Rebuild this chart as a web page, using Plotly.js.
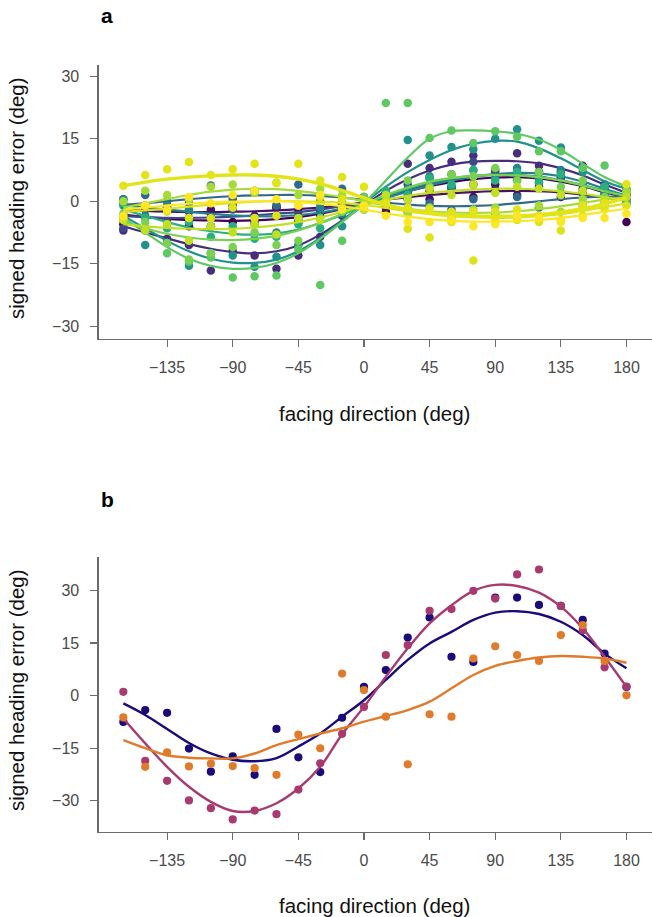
<!DOCTYPE html>
<html>
<head>
<meta charset="utf-8">
<script src="https://cdn.plot.ly/plotly-3.0.1.min.js"></script>
<style>html,body{margin:0;padding:0;background:#fff;}#chart{width:652px;height:917px;}</style>
</head>
<body>
<div id="chart"></div>
<script>
// facing direction (deg)
const facing = [-165,-150,-135,-120,-105,-90,-75,-60,-45,-30,-15,0,15,30,45,60,75,90,105,120,135,150,165,180];
const xTicks = [-135,-90,-45,0,45,90,135,180];
const yTicks = [-30,-15,0,15,30];

// Panel a: per-participant points and smooth fits
const aColors = ["#440154","#471365","#472d7b","#3e4989","#31688e","#26828e","#21918c","#2ab07f","#5ec962","#7ad151","#a5db36","#c2df23","#dde318","#e2e418","#fde725"];
const aPts = [
  [-5.5,-2.0,-1.5,-6.0,-3.0,-5.0,-5.0,-1.5,-5.0,-3.5,-0.5,-1.0,-2.5,0.5,2.5,3.5,4.0,2.8,6.5,7.0,7.0,2.0,3.0,-5.0],
  [-4.0,-1.0,-1.5,-4.0,-2.0,-1.0,-3.5,-1.5,-2.5,-0.5,-2.0,1.0,-1.5,2.0,0.5,3.0,1.0,4.0,1.5,3.5,1.0,3.0,-0.5,1.5],
  [-7.0,-6.5,-9.0,-10.5,-16.6,-12.0,-13.0,-16.2,-13.0,-8.5,-3.5,-1.0,0.5,9.0,8.0,9.5,11.0,7.5,11.5,8.5,6.0,8.5,2.0,1.5],
  [-6.5,-7.0,-5.0,-2.5,-6.0,-2.0,-5.0,-1.0,-4.5,-2.5,-0.5,0.5,-0.5,4.0,5.5,6.5,9.5,7.0,5.0,4.5,5.5,2.0,4.0,0.5],
  [0.5,1.5,0.0,-0.5,3.8,0.5,2.5,-1.0,4.0,0.0,3.0,-1.0,0.5,-2.5,-0.5,-2.0,0.5,-3.0,1.0,-1.5,2.0,-1.0,1.5,-0.5],
  [0.5,-3.5,-1.0,-2.0,-6.0,-1.5,-5.5,-7.5,-4.5,-1.5,-3.0,0.5,-0.5,3.0,6.0,3.5,7.5,5.5,8.0,5.5,7.5,4.0,2.0,3.0],
  [-1.0,-10.5,-10.0,-15.5,-12.5,-13.0,-15.7,-13.3,-10.5,-10.5,-6.0,0.0,2.0,14.7,11.0,13.0,12.5,15.0,17.3,14.5,12.9,7.0,3.5,2.0],
  [-0.5,-4.0,-6.5,-5.0,-8.5,-6.0,-9.0,-8.5,-5.5,-6.5,-2.0,-2.0,2.5,1.5,5.5,4.0,7.5,5.0,7.0,4.5,6.5,2.5,3.5,0.0],
  [-3.0,-6.5,-12.5,-14.5,-13.5,-18.3,-18.0,-17.8,-11.5,-20.1,-9.5,1.0,23.6,23.6,15.2,17.0,14.0,16.8,15.5,12.0,12.0,8.0,8.6,2.5],
  [-4.5,-5.0,-10.0,-14.0,-12.5,-11.0,-7.5,-10.5,-9.5,-4.0,-2.5,0.5,0.5,5.0,3.5,6.5,6.0,8.0,5.0,7.0,3.5,5.0,1.0,2.5],
  [0.0,2.5,1.5,0.5,3.5,4.0,2.0,4.5,1.5,3.0,1.5,-1.0,0.0,-3.0,-1.5,-4.0,-2.0,-1.5,-3.5,-1.0,-2.5,0.5,-1.0,2.0],
  [-4.5,-7.0,-5.5,-9.5,-6.0,-7.5,-5.5,-8.0,-4.0,-4.5,-1.5,-2.0,1.5,0.5,3.0,1.5,4.0,2.0,3.5,3.0,1.5,2.5,0.0,1.0],
  [-4.0,-1.0,-2.5,-4.0,-4.1,-1.5,-4.0,-3.5,-1.0,1.0,0.5,-1.5,-0.5,-6.6,-8.7,-2.5,-14.2,-2.5,-4.5,-5.0,-7.0,-3.5,-2.0,-1.0],
  [3.7,6.3,7.7,9.4,6.3,7.7,9.0,4.3,9.0,5.0,5.8,3.5,-0.5,-1.5,-2.0,-5.0,-2.5,-4.5,-2.0,-3.5,-4.5,-1.0,-0.5,4.1],
  [-3.5,-1.0,-2.0,1.0,-0.5,1.5,2.5,0.5,-1.0,1.5,-2.0,-1.0,-3.5,-5.0,-5.0,-4.5,-6.0,-5.5,-3.5,-4.0,-5.0,-4.0,-4.0,-3.0]
];
const aFit = [
  [-3.2,-3.8,-4.2,-4.5,-4.6,-4.7,-4.6,-4.3,-3.8,-3.0,-1.8,-0.4,1.0,2.4,3.6,4.6,5.3,5.7,5.8,5.5,4.7,3.6,2.2,1.0],
  [-2.0,-2.3,-2.5,-2.6,-2.6,-2.5,-2.4,-2.2,-1.9,-1.5,-1.0,-0.3,0.4,1.0,1.5,1.9,2.2,2.4,2.5,2.4,2.1,1.6,0.9,0.2],
  [-6.0,-7.5,-8.9,-10.3,-11.4,-12.2,-12.5,-12.0,-10.6,-8.0,-4.6,-1.0,2.5,5.3,7.4,8.8,9.5,9.7,9.6,9.1,7.9,6.2,4.0,2.0],
  [-3.5,-3.8,-4.0,-4.0,-3.9,-3.7,-3.4,-3.0,-2.6,-2.0,-1.2,-0.2,1.2,2.8,4.2,5.3,6.0,6.3,6.3,5.9,5.0,3.8,2.4,1.0],
  [-0.8,-0.5,0.0,0.5,0.9,1.2,1.4,1.5,1.5,1.3,0.9,0.3,-0.3,-0.8,-1.1,-1.2,-1.1,-0.9,-0.5,0.0,0.5,0.9,1.1,1.0],
  [-1.0,-1.5,-2.0,-2.5,-3.0,-3.4,-3.6,-3.6,-3.3,-2.7,-1.8,-0.6,0.8,2.3,3.8,5.0,5.9,6.5,6.8,6.7,6.0,4.7,3.0,1.3],
  [-3.5,-6.5,-9.5,-12.0,-13.8,-14.7,-14.8,-14.0,-12.0,-8.8,-4.7,-0.5,3.5,7.0,9.9,12.3,13.8,14.5,14.3,12.7,10.3,7.5,4.8,3.0],
  [-2.0,-3.5,-5.0,-6.3,-7.2,-7.8,-8.0,-7.7,-6.8,-5.2,-3.2,-1.0,1.2,3.0,4.5,5.5,6.1,6.3,6.2,5.8,5.0,3.9,2.6,1.3],
  [-4.0,-7.5,-11.0,-13.8,-15.5,-16.2,-16.0,-14.8,-12.5,-9.0,-5.0,-0.5,5.0,10.5,15.0,16.8,17.0,16.8,16.2,14.8,12.3,9.0,5.8,3.5],
  [-5.0,-6.5,-7.8,-8.7,-9.2,-9.3,-9.0,-8.3,-7.0,-5.2,-3.0,-0.7,1.5,3.3,4.7,5.6,6.1,6.3,6.2,5.8,5.0,3.8,2.4,1.2],
  [-1.5,-0.5,0.5,1.5,2.3,2.8,3.0,2.9,2.5,1.8,1.0,0.0,-1.0,-1.8,-2.4,-2.7,-2.8,-2.7,-2.4,-1.9,-1.2,-0.4,0.4,1.0],
  [-5.5,-6.0,-6.4,-6.6,-6.7,-6.6,-6.3,-5.8,-5.0,-3.9,-2.5,-1.0,0.3,1.3,2.0,2.5,2.8,3.0,3.0,2.8,2.4,1.8,1.0,0.2],
  [-2.5,-2.2,-1.8,-1.3,-0.8,-0.4,-0.1,0.0,0.0,-0.1,-0.4,-0.9,-1.6,-2.4,-3.1,-3.6,-3.9,-4.0,-3.9,-3.6,-3.1,-2.3,-1.4,-0.5],
  [3.7,4.6,5.3,5.8,6.1,6.3,6.3,6.0,5.3,4.2,2.6,0.8,-0.8,-2.0,-2.8,-3.3,-3.5,-3.6,-3.5,-3.2,-2.6,-1.8,-0.6,0.8],
  [-2.0,-1.5,-1.0,-0.6,-0.3,-0.1,0.0,0.0,-0.2,-0.6,-1.2,-2.0,-2.9,-3.7,-4.3,-4.7,-4.9,-4.9,-4.8,-4.5,-4.0,-3.3,-2.5,-1.8]
];
const aWidths = [2.2,2.2,2.2,2.2,2.2,2.2,2.2,2.2,2.2,2.2,2.2,2.2,2.2,3.4,2.2];

// Panel b: group means and fits
const bNames = ["group 1","group 2","group 3"];
const bColors = ["#1a0b7a","#a83a70","#e07b2c"];
const navyPts = [-7.5,-4.1,-4.9,-15.1,-21.7,-17.3,-22.6,-9.5,-17.6,-21.8,-6.3,2.5,7.3,16.6,22.3,11.1,9.6,28.0,28.0,25.9,25.6,21.6,12.0,2.5];
const magentaPts = [1.1,-18.6,-24.3,-29.9,-32.1,-35.3,-32.8,-33.8,-26.8,-19.3,-10.9,-3.2,11.6,14.4,24.2,24.7,29.9,27.7,34.6,36.0,25.6,18.7,8.1,2.6];
const orangePts = [-6.2,-20.3,-16.2,-20.2,-19.4,-20.1,-20.7,-22.6,-11.1,-15.0,6.3,1.6,-6.0,-19.6,-5.3,-6.0,10.6,14.1,11.6,9.9,17.3,20.1,9.9,0.1];
const navyFit = [-2.2,-5.5,-9.5,-13.5,-16.5,-18.3,-18.7,-17.8,-14.5,-10.8,-6.0,-1.3,4.5,10.2,14.9,18.2,21.6,23.7,24.1,23.3,21.1,17.3,12.0,7.8];
const magentaFit = [-6.5,-13.6,-20.3,-26.0,-30.3,-32.9,-32.9,-30.7,-26.5,-20.3,-11.0,-3.2,5.4,13.5,20.6,25.8,29.9,31.6,31.3,29.4,25.4,19.2,11.1,2.5];
const orangeFit = [-12.7,-15.0,-17.0,-17.7,-17.9,-17.9,-16.5,-14.1,-12.4,-10.8,-9.3,-7.4,-5.8,-4.1,-1.7,2.1,5.9,8.5,9.9,10.9,11.3,11.1,10.6,9.4];
const bPts = [navyPts, magentaPts, orangePts];
const bFit = [navyFit, magentaFit, orangeFit];

const W = 652, H = 917;
const traces = [];
aPts.forEach((pts, i) => {
  traces.push({x: facing, y: pts, type: 'scatter', mode: 'markers', xaxis: 'x', yaxis: 'y',
    marker: {color: aColors[i], size: 8.5}, hoverinfo: 'skip', showlegend: false});
  traces.push({x: facing, y: aFit[i], type: 'scatter', mode: 'lines', xaxis: 'x', yaxis: 'y',
    line: {color: aColors[i], width: aWidths[i], shape: 'spline', smoothing: 1}, hoverinfo: 'skip', showlegend: false});
});
bPts.forEach((pts, i) => {
  traces.push({x: facing, y: pts, type: 'scatter', mode: 'markers', xaxis: 'x2', yaxis: 'y2', name: bNames[i],
    marker: {color: bColors[i], size: 8.2}, showlegend: false});
  traces.push({x: facing, y: bFit[i], type: 'scatter', mode: 'lines', xaxis: 'x2', yaxis: 'y2', name: bNames[i],
    line: {color: bColors[i], width: 2.4, shape: 'spline', smoothing: 1}, showlegend: false});
});

const font = "Liberation Sans, Arial, Helvetica, sans-serif";
const xDom = [98.7 / W, 1];
function xa() {
  return {domain: xDom, range: [-181.9, 197.5], tickvals: xTicks, showline: true, linecolor: '#6b6b6b', linewidth: 1.3,
    ticks: 'outside', ticklen: 7, tickcolor: '#6b6b6b', tickwidth: 1.2, showgrid: false, zeroline: false,
    tickfont: {family: font, size: 16, color: '#4a4a4a'}, ticklabelstandoff: 6, fixedrange: true};
}
function ya(dom, rng) {
  return {domain: dom, range: rng, tickvals: yTicks, showline: true, linecolor: '#6b6b6b', linewidth: 1.3,
    ticks: 'outside', ticklen: 7, tickcolor: '#6b6b6b', tickwidth: 1.2, showgrid: false, zeroline: false,
    tickfont: {family: font, size: 16, color: '#4a4a4a'}, ticklabelstandoff: 8, fixedrange: true};
}
const px = v => v / W, py = v => 1 - v / H;
const titleFont = {family: font, size: 20.5, color: '#111'};
const layout = {
  width: W, height: H, margin: {l: 0, r: 0, t: 0, b: 0}, paper_bgcolor: '#fff', plot_bgcolor: '#fff',
  showlegend: false,
  xaxis: Object.assign(xa(), {anchor: 'y'}),
  yaxis: Object.assign(ya([1 - 339 / H, 1 - 65 / H], [-33.05, 32.7]), {anchor: 'x'}),
  xaxis2: Object.assign(xa(), {anchor: 'y2'}),
  yaxis2: Object.assign(ya([1 - 832 / H, 1 - 556.7 / H], [-38.9, 39.65]), {anchor: 'x2'}),
  annotations: [
    {text: '<b>a</b>', x: px(99), y: py(15), xref: 'paper', yref: 'paper', xanchor: 'left', yanchor: 'middle', showarrow: false, font: {family: font, size: 21, color: '#000'}},
    {text: '<b>b</b>', x: px(99), y: py(499), xref: 'paper', yref: 'paper', xanchor: 'left', yanchor: 'middle', showarrow: false, font: {family: font, size: 21, color: '#000'}},
    {text: 'facing direction (deg)', x: px(374.5), y: py(413), xref: 'paper', yref: 'paper', xanchor: 'center', yanchor: 'middle', showarrow: false, font: titleFont},
    {text: 'facing direction (deg)', x: px(374.5), y: py(905), xref: 'paper', yref: 'paper', xanchor: 'center', yanchor: 'middle', showarrow: false, font: titleFont},
    {text: 'signed heading error (deg)', x: px(16), y: py(198), xref: 'paper', yref: 'paper', xanchor: 'center', yanchor: 'middle', textangle: -90, showarrow: false, font: titleFont},
    {text: 'signed heading error (deg)', x: px(16), y: py(690), xref: 'paper', yref: 'paper', xanchor: 'center', yanchor: 'middle', textangle: -90, showarrow: false, font: titleFont}
  ]
};
Plotly.newPlot('chart', traces, layout, {displayModeBar: false, staticPlot: true});
</script>
</body>
</html>
